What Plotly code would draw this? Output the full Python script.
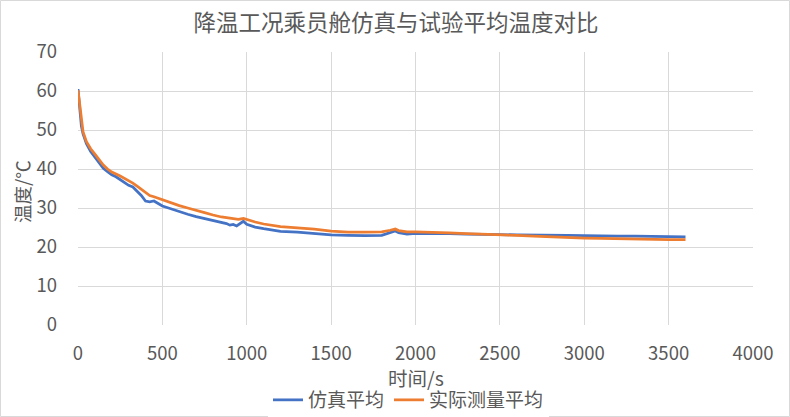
import plotly.graph_objects as go

sim_t = [0, 5, 10, 20, 30, 50, 75, 100, 125, 150, 175, 200, 225, 250, 275, 300, 325, 350, 375, 400,
         425, 450, 475, 500, 550, 600, 650, 700, 750, 800, 850, 880, 900, 920, 940, 960, 980, 1000,
         1050, 1100, 1150, 1200, 1300, 1400, 1500, 1600, 1700, 1800, 1850, 1880, 1900, 1950, 2000,
         2100, 2200, 2300, 2400, 2500, 2600, 2700, 2800, 2900, 3000, 3100, 3200, 3300, 3400, 3500, 3600]
sim_v = [60.5, 58, 55, 51, 49, 46.5, 44.5, 43, 41.5, 40.2, 39.3, 38.5, 38, 37.2, 36.5, 35.8, 35.4, 34.3, 33.2, 31.8,
         31.6, 31.8, 31.2, 30.5, 29.8, 29.0, 28.4, 27.8, 27.3, 26.9, 26.4, 26.0, 25.6, 25.8, 25.4, 25.9, 26.6, 25.8,
         25.1, 24.7, 24.3, 24.0, 23.8, 23.4, 23.1, 23.0, 22.9, 23.0, 23.8, 24.1, 23.7, 23.3, 23.5,
         23.5, 23.4, 23.3, 23.3, 23.2, 23.1, 23.1, 23.1, 23.0, 22.9, 22.8, 22.8, 22.8, 22.7, 22.7, 22.6]

exp_t = [0, 5, 10, 20, 30, 50, 75, 100, 125, 150, 175, 200, 250, 300, 325, 350, 375, 400, 425, 450,
         500, 550, 600, 650, 700, 750, 800, 850, 900, 950, 980, 1000, 1050, 1100, 1150, 1200, 1300,
         1400, 1500, 1600, 1700, 1800, 1850, 1880, 1900, 1950, 2000, 2100, 2200, 2300, 2400, 2500,
         2600, 2700, 2800, 2900, 3000, 3100, 3200, 3300, 3400, 3500, 3600]
exp_v = [60.2, 58.5, 56, 52, 49.5, 47, 45.2, 43.8, 42.3, 41, 40, 39.2, 38.2, 37.1, 36.4, 35.6, 34.8, 33.8, 33.2, 32.9,
         32.1, 31.3, 30.6, 30.0, 29.3, 28.8, 28.2, 27.7, 27.4, 27.1, 27.3, 27.0, 26.4, 25.9, 25.5, 25.2, 24.9,
         24.6, 24.1, 23.8, 23.8, 23.9, 24.3, 24.6, 24.2, 23.9, 23.9, 23.8, 23.6, 23.4, 23.3, 23.2,
         23.0, 22.8, 22.6, 22.5, 22.3, 22.2, 22.1, 22.1, 22.0, 21.9, 21.9]

title = "降温工况乘员舱仿真与试验平均温度对比"
x_title = "时间/s"
y_title = "温度/℃"
names = ["仿真平均", "实际测量平均"]

font_family = "Noto Sans CJK SC"
grey = "#595959"

fig = go.Figure()
fig.add_trace(go.Scatter(x=sim_t, y=sim_v, mode="lines", name=names[0],
                         line=dict(color="#4472C4", width=2.75)))
fig.add_trace(go.Scatter(x=exp_t, y=exp_v, mode="lines", name=names[1],
                         line=dict(color="#ED7D31", width=2.75)))

W, H = 790, 417
l, r, t, b = 78, 37, 52, 92
pw, ph = W - l - r, H - t - b

fig.update_layout(
    width=W, height=H,
    margin=dict(l=l, r=r, t=t, b=b, autoexpand=False),
    paper_bgcolor="white", plot_bgcolor="white",
    font=dict(family=font_family, color=grey, size=18),
    title=dict(text=title, x=396 / W, xanchor="center", y=1 - 23 / H, yanchor="middle",
               font=dict(size=22.5, color=grey, family=font_family)),
    xaxis=dict(range=[0, 4000], dtick=500, tick0=0, showgrid=True, gridcolor="#D9D9D9", gridwidth=1,
               zeroline=False, showline=False, ticks="", tickfont=dict(size=18.5, color=grey),
               ticklabelstandoff=15, automargin=False),
    yaxis=dict(range=[0, 70], dtick=10, showgrid=True, gridcolor="#D9D9D9", gridwidth=1,
               zeroline=False, showline=False, ticks="", tickfont=dict(size=18.5, color=grey),
               ticklabelstandoff=20, automargin=False),
    legend=dict(orientation="h", x=0.5 - 7 / pw, xanchor="center", y=-(400 - 325) / ph, yanchor="middle",
                font=dict(size=19, color=grey), itemwidth=30, tracegroupgap=0),
    showlegend=True,
)

fig.add_annotation(text=x_title, xref="paper", yref="paper", x=(416 - l) / pw, y=-(377 - 325) / ph,
                   xanchor="center", yanchor="middle", showarrow=False,
                   font=dict(size=19.5, color=grey))
fig.add_annotation(text=y_title, xref="paper", yref="paper", x=-(78 - 22) / pw, y=(325 - 192) / ph,
                   xanchor="center", yanchor="middle", showarrow=False, textangle=-90,
                   font=dict(size=18.5, color=grey))

fig.add_shape(type="rect", xref="paper", yref="paper",
              x0=-(l - 0.5) / pw, x1=1 + (r - 0.5) / pw,
              y0=-(b - 0.5) / ph, y1=1 + (t - 0.5) / ph,
              line=dict(color="#D9D9D9", width=1), layer="below")

fig.write_html("out.html", config={"displayModeBar": False},
               post_script="document.body.style.margin='0';document.body.style.overflow='hidden';")
